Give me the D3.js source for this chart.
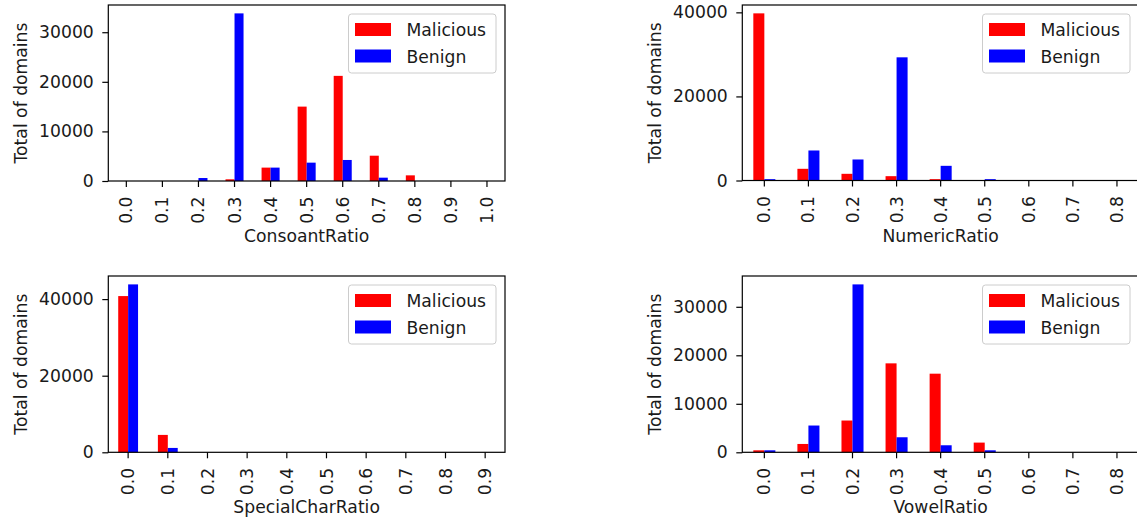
<!DOCTYPE html>
<html>
<head>
<meta charset="utf-8">
<script src="https://cdn.jsdelivr.net/npm/d3@7"></script>
<style>
  body { margin: 0; background: #fff; }
  svg { display: block; font-family: "DejaVu Sans", sans-serif; }
</style>
</head>
<body>
<div id="chart"></div>
<script>
// values
var series = ["Malicious", "Benign"];
var seriesColors = ["#ff0000", "#0000ff"];

var consoantCats = ["0.0", "0.1", "0.2", "0.3", "0.4", "0.5", "0.6", "0.7", "0.8", "0.9", "1.0"];
var consoantMal = [0, 0, 0, 340, 2700, 15000, 21200, 5100, 1140, 0, 0];
var consoantBen = [0, 0, 600, 33800, 2700, 3700, 4240, 670, 0, 0, 0];
var consoantTicks = [0, 10000, 20000, 30000];

var numericCats = ["0.0", "0.1", "0.2", "0.3", "0.4", "0.5", "0.6", "0.7", "0.8"];
var numericMal = [39760, 2780, 1590, 1030, 320, 0, 0, 0, 0];
var numericBen = [320, 7140, 5000, 29300, 3490, 320, 0, 0, 0];
var numericTicks = [0, 20000, 40000];

var specialCats = ["0.0", "0.1", "0.2", "0.3", "0.4", "0.5", "0.6", "0.7", "0.8", "0.9"];
var specialMal = [40790, 4540, 0, 0, 0, 0, 0, 0, 0, 0];
var specialBen = [43840, 1140, 0, 0, 0, 0, 0, 0, 0, 0];
var specialTicks = [0, 20000, 40000];

var vowelCats = ["0.0", "0.1", "0.2", "0.3", "0.4", "0.5", "0.6", "0.7", "0.8"];
var vowelMal = [410, 1720, 6550, 18340, 16210, 2000, 0, 0, 0];
var vowelBen = [410, 5520, 34620, 3100, 1450, 410, 0, 0, 0];
var vowelTicks = [0, 10000, 20000, 30000];

var fontSize = 17.2;
var textColor = "#1a1a1a";

var svg = d3.select("#chart")
    .append("svg")
        .attr("width", 1137)
        .attr("height", 521);

var barPanel = function(left, top, width, height, cats, mal, ben, yTicks, xLabel) {
    var g = svg.append("g")
        .attr("transform", "translate(" + left + "," + top + ")");

    var rows = cats.map(function(c, i) {
        return { cat: c, values: [mal[i], ben[i]] };
    });
    var maxVal = d3.max(mal.concat(ben));

    var x = d3.scaleBand().domain(cats).range([0, width]).padding(0);
    var step = x.step();
    var x1 = d3.scaleBand().domain(series).range([step * 0.25, step * 0.75]).padding(0);
    var y = d3.scaleLinear().domain([0, maxVal * 1.05]).range([height, 0]);

    var groups = g.append("g").selectAll("g")
        .data(rows)
        .enter()
        .append("g")
            .attr("transform", function(d) { return "translate(" + x(d.cat) + ",0)"; });
    groups.selectAll("rect")
        .data(function(d) { return d.values.map(function(v, j) { return { key: series[j], value: v, j: j }; }); })
        .enter()
        .append("rect")
            .attr("x", function(d) { return x1(d.key); })
            .attr("width", x1.bandwidth())
            .attr("y", function(d) { return y(d.value); })
            .attr("height", function(d) { return height - y(d.value); })
            .style("fill", function(d) { return seriesColors[d.j]; });

    // frame
    g.append("rect")
        .attr("width", width)
        .attr("height", height)
        .style("fill", "none")
        .style("stroke", "#000")
        .style("stroke-width", 1.2);

    var xAxis = g.append("g")
        .attr("transform", "translate(0," + height + ")")
        .call(d3.axisBottom(x).tickSize(6).tickSizeOuter(0));
    xAxis.select(".domain").remove();
    xAxis.selectAll("line").style("stroke", "#000").style("stroke-width", 1.2);
    xAxis.selectAll("text")
        .attr("transform", "rotate(-90)")
        .attr("x", -15.5)
        .attr("y", 0)
        .attr("dy", "0.35em")
        .style("text-anchor", "end")
        .style("font-size", fontSize + "px")
        .style("font-family", "DejaVu Sans")
        .style("fill", textColor);

    var yAxis = g.append("g")
        .call(d3.axisLeft(y).tickValues(yTicks).tickFormat(d3.format("d")).tickSize(6).tickPadding(8.5));
    yAxis.select(".domain").remove();
    yAxis.selectAll("line").style("stroke", "#000").style("stroke-width", 1.2);
    yAxis.selectAll("text")
        .style("font-size", fontSize + "px")
        .style("font-family", "DejaVu Sans")
        .style("fill", textColor);

    g.append("text")
        .attr("x", width / 2)
        .attr("y", height + 61)
        .style("text-anchor", "middle")
        .style("font-size", fontSize + "px")
        .style("fill", textColor)
        .text(xLabel);

    g.append("text")
        .attr("transform", "rotate(-90)")
        .attr("x", -height / 2)
        .attr("y", -81.5)
        .style("text-anchor", "middle")
        .style("font-size", fontSize + "px")
        .style("fill", textColor)
        .text("Total of domains");

    // legend
    var legW = 147.5, legH = 59;
    var leg = g.append("g")
        .attr("transform", "translate(" + (width - 9 - legW) + ",9)");
    leg.append("rect")
        .attr("width", legW)
        .attr("height", legH)
        .attr("rx", 3)
        .style("fill", "#fff")
        .style("fill-opacity", 0.8)
        .style("stroke", "#cccccc")
        .style("stroke-width", 1);
    series.forEach(function(s, j) {
        leg.append("rect")
            .attr("x", 6.5)
            .attr("y", 9 + j * 26.5)
            .attr("width", 36)
            .attr("height", 13)
            .style("fill", seriesColors[j]);
        leg.append("text")
            .attr("x", 58)
            .attr("y", 22 + j * 26.5)
            .style("font-size", fontSize + "px")
            .style("fill", textColor)
            .text(s);
    });
};

barPanel(108.3, 5, 396.7, 176, consoantCats, consoantMal, consoantBen, consoantTicks, "ConsoantRatio");
barPanel(742.3, 5, 396.7, 175.5, numericCats, numericMal, numericBen, numericTicks, "NumericRatio");
barPanel(108.3, 276, 396.7, 176.3, specialCats, specialMal, specialBen, specialTicks, "SpecialCharRatio");
barPanel(742.3, 276, 396.7, 176.3, vowelCats, vowelMal, vowelBen, vowelTicks, "VowelRatio");
</script>
</body>
</html>
